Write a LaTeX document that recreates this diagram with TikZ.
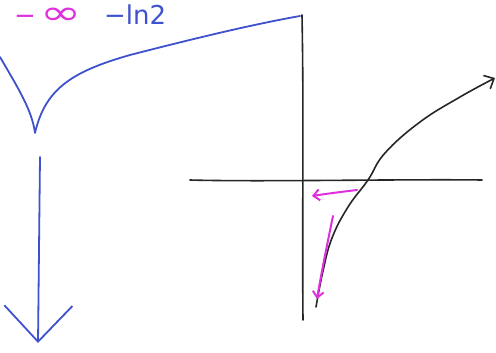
\documentclass[tikz,border=0pt]{standalone}
\usepackage{fontspec}
\setmainfont{DejaVu Sans}
\usepackage{xcolor}
\usepackage{graphicx}
\usetikzlibrary{arrows.meta}
\definecolor{penblue}{RGB}{62,82,205}
\definecolor{penpink}{RGB}{222,48,222}
\tikzset{
    bluepen/.style={draw=penblue, line width=1.8pt, line cap=round, line join=round},
    pinkpen/.style={draw=penpink, line width=2pt, line cap=round},
    blackpen/.style={draw=black!85, line width=1.6pt, line cap=round},
    bigarrow/.style={-{Straight Barb[length=36pt, width=68pt]}},
    tiparrow/.style={-{Straight Barb[length=8pt, width=15pt]}},
    pinkarrow/.style={-{Straight Barb[length=6pt, width=11pt]}},
    label/.style={font=\fontsize{26}{26}\selectfont, inner sep=0pt, anchor=base west}
}
\begin{document}
\begin{tikzpicture}[x=1pt, y=-1pt]
    \useasboundingbox (0,0) rectangle (496,353);
    % limit labels
    \node (minf) [label, text=penpink] at (14,25) {−\,\scalebox{1.9}[1.3]{∞}};
    \node (mln) [label, text=penblue] at (104,25) {−ln2};
    % brace opening towards the top
    \coordinate (cusp) at (35,133);
    \draw [bluepen] (0,57) .. controls (18,88) and (32,110) .. (cusp)
        .. controls (45,90) and (70,72) .. (130,55)
        .. controls (200,37) and (255,24) .. (300,16);
    % long arrow down
    \coordinate (dtop) at (40,157);
    \coordinate (dend) at (38,343);
    \draw [bluepen, bigarrow] (dtop) -- (dend);
    % axes
    \coordinate (ytop) at (302,15);
    \coordinate (ybot) at (303,320);
    \coordinate (xleft) at (190,180);
    \coordinate (xright) at (482,180);
    \draw [blackpen] (ytop) .. controls (304,120) and (302,220) .. (ybot);
    \draw [blackpen] (xleft) .. controls (260,182) and (400,179) .. (xright);
    % graph of the function
    \coordinate (gstart) at (316,307);
    \coordinate (gcross) at (368,180);
    \coordinate (gend) at (495,78);
    \draw [blackpen, tiparrow] plot [smooth, tension=0.7] coordinates
        {(gstart) (323,271) (332,238) (348,207) (gcross) (385,153) (420,122) (460,97) (gend)};
    % pink arrows along the graph
    \coordinate (pa1) at (357,190);
    \coordinate (pa2) at (312,196);
    \coordinate (pb1) at (333,216);
    \coordinate (pb2) at (317,299);
    \draw [pinkpen, pinkarrow] (pa1) .. controls (340,192) and (325,194) .. (pa2);
    \draw [pinkpen, pinkarrow] (pb1) .. controls (327,245) and (321,275) .. (pb2);
\end{tikzpicture}
\end{document}
